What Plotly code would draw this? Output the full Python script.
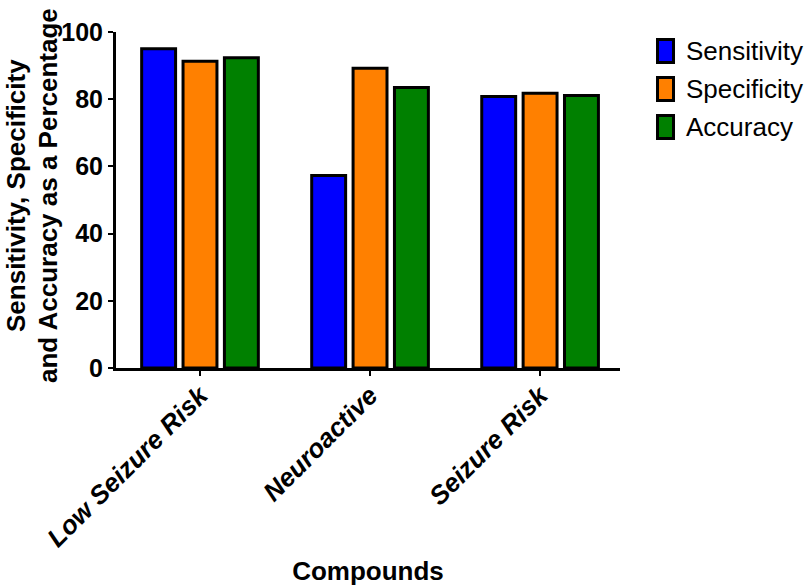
import plotly.graph_objects as go

# values
categories = ["Low Seizure Risk", "Neuroactive", "Seizure Risk"]
sensitivity = [95.0, 57.3, 80.8]
specificity = [91.3, 89.2, 81.8]
accuracy = [92.3, 83.5, 81.1]
y_ticks = [0, 20, 40, 60, 80, 100]
y_title_lines = ["Sensitivity, Specificity", "and Accuracy as a Percentage"]

series = [
    ("Sensitivity", sensitivity, "#0000FF"),
    ("Specificity", specificity, "#FF8000"),
    ("Accuracy", accuracy, "#008000"),
]

FONT = "Liberation Sans, Arial, sans-serif"


def main():
    fig = go.Figure()
    for name, vals, color in series:
        fig.add_trace(go.Bar(
            x=categories, y=vals, name=name,
            marker=dict(color=color, line=dict(color="black", width=3)),
        ))

    fig.update_layout(
        width=809, height=586,
        margin=dict(l=116, r=189, t=32, b=218),
        paper_bgcolor="white", plot_bgcolor="white",
        barmode="group", bargap=0.27, bargroupgap=0.18,
        font=dict(family=FONT, color="black"),
        showlegend=False,
    )

    # legend drawn by hand so the boxes can be as big as in the original
    legend_y = [0.9435, 0.8304, 0.7173]
    for (name, vals, color), ly in zip(series, legend_y):
        fig.add_shape(type="rect", xref="paper", yref="paper",
                      xsizemode="pixel", ysizemode="pixel",
                      xanchor=1.0903, yanchor=ly, x0=-8, x1=8, y0=-11.5, y1=11.5,
                      fillcolor=color, line=dict(color="black", width=3))
        fig.add_annotation(text=name, xref="paper", yref="paper", x=1.127, y=ly,
                           xanchor="left", yanchor="middle", showarrow=False,
                           font=dict(size=26, family=FONT, color="black"))

    # y title, one rotated annotation per line so the spacing can be set
    for line, xs in zip(y_title_lines, [-100, -68]):
        fig.add_annotation(text="<b>" + line + "</b>",
                           xref="paper", yref="paper", x=0, y=0.5, xshift=xs, yshift=4,
                           xanchor="center", yanchor="middle", textangle=-90, showarrow=False,
                           font=dict(size=26, family=FONT, color="black"))

    fig.update_xaxes(
        type="category", range=[-0.494, 2.47],
        showline=True, linecolor="black", linewidth=3,
        ticks="outside", ticklen=5, tickwidth=2, tickcolor="black",
        tickangle=-45, showgrid=False, automargin=False, ticklabelstandoff=-6,
        tickfont=dict(size=26, weight="bold", style="italic", family=FONT),
        title=dict(text="<b>Compounds</b>", font=dict(size=26, family=FONT), standoff=12),
    )
    fig.update_yaxes(
        range=[0, 100], tickvals=y_ticks,
        showline=True, linecolor="black", linewidth=3,
        ticks="outside", ticklen=5, tickwidth=2, tickcolor="black",
        showgrid=False, zeroline=False, automargin=False,
        tickfont=dict(size=25, weight="bold", family=FONT),
    )

    # drop the browser's default body margin so the figure sits at the top-left corner
    fig.write_html("out.html", config={"displayModeBar": False},
                   post_script="document.body.style.margin = '0';")


if __name__ == "__main__":
    main()
